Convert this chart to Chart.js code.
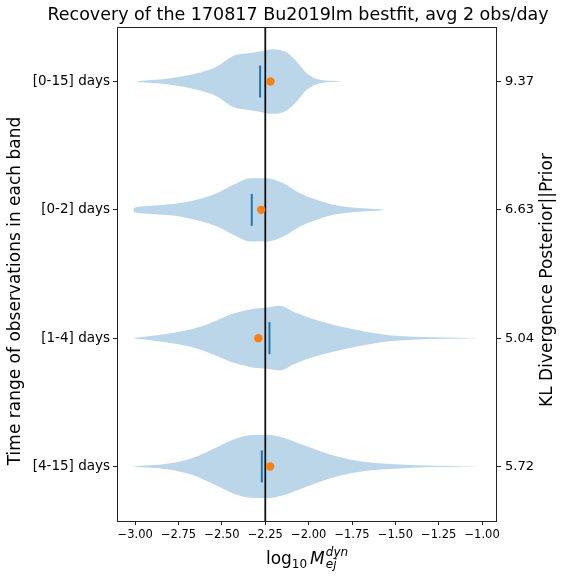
<!DOCTYPE html>
<html>
<head>
<meta charset="utf-8">
<script src="https://cdn.jsdelivr.net/npm/chart.js@4"></script>
<style>
  body { margin: 0; background: #fff; }
  #wrap { width: 567px; height: 577px; }
</style>
</head>
<body>
<div id="wrap"><canvas id="chart" width="567" height="577"></canvas></div>
<script>
// data
const categories = ["[0-15] days", "[0-2] days", "[1-4] days", "[4-15] days"];
const klDivergence = ["9.37", "6.63", "5.04", "5.72"];
const truthValue = -2.25;
const medians = [-2.28, -2.328, -2.226, -2.27];
const injected = [-2.22, -2.274, -2.29, -2.222];
const xTicks = [-3.0, -2.75, -2.5, -2.25, -2.0, -1.75, -1.5, -1.25, -1.0];

// violin outlines: x positions and half widths (category units)
const violinX = [
  [-2.99, -2.817, -2.625, -2.529, -2.434, -2.376, -2.299, -2.203, -2.126, -2.069, -2.011, -1.935, -1.82],
  [-3.01, -2.99, -2.913, -2.722, -2.529, -2.434, -2.338, -2.241, -2.146, -2.05, -1.954, -1.858, -1.762, -1.57],
  [-3.009, -2.913, -2.722, -2.625, -2.529, -2.434, -2.338, -2.241, -2.165, -2.088, -1.954, -1.762, -1.57, -1.378, -1.033],
  [-3.009, -2.817, -2.664, -2.529, -2.434, -2.338, -2.241, -2.146, -2.05, -1.858, -1.666, -1.474, -1.282, -1.033]
];
const violinHalfWidth = [
  [0.003, 0.021, 0.07, 0.117, 0.2, 0.216, 0.231, 0.252, 0.226, 0.156, 0.065, 0.013, 0.002],
  [0.014, 0.022, 0.031, 0.057, 0.13, 0.195, 0.247, 0.247, 0.208, 0.13, 0.078, 0.039, 0.021, 0.003],
  [0.002, 0.016, 0.055, 0.088, 0.14, 0.192, 0.224, 0.239, 0.252, 0.205, 0.14, 0.076, 0.029, 0.01, 0.001],
  [0.002, 0.021, 0.068, 0.15, 0.21, 0.244, 0.247, 0.224, 0.177, 0.086, 0.034, 0.016, 0.005, 0.001]
];

const yMin = -0.425, yMax = 3.425;
const FONT = "'DejaVu Sans', sans-serif";

const datasets = [];
// orange dots
datasets.push({
  data: injected.map((v, i) => ({ x: v, y: i })),
  showLine: false, pointRadius: 4.2, pointBackgroundColor: "#ff7f0e",
  pointBorderWidth: 0, pointHoverRadius: 4.2
});
// median markers
datasets.push({
  data: medians.map((v, i) => ({ x: v, y: i })),
  showLine: false, pointStyle: "line", rotation: 90, pointRadius: 16,
  pointBorderColor: "#1f77b4", pointBorderWidth: 2, pointHoverRadius: 16
});
// truth line
datasets.push({
  data: [{ x: truthValue, y: yMin }, { x: truthValue, y: yMax }],
  borderColor: "#111", borderWidth: 1.8, pointRadius: 0
});
// violins
violinX.forEach((xs, i) => {
  const w = violinHalfWidth[i];
  datasets.push({
    data: xs.map((x, k) => ({ x: x, y: i - w[k] })),
    borderWidth: 0, pointRadius: 0, cubicInterpolationMode: "monotone", fill: false
  });
  datasets.push({
    data: xs.map((x, k) => ({ x: x, y: i + w[k] })),
    borderWidth: 0, pointRadius: 0, cubicInterpolationMode: "monotone",
    fill: "-1", backgroundColor: "rgba(31,119,180,0.3)"
  });
});

const labelsPlugin = {
  id: "labels",
  afterDraw(chart) {
    const ctx = chart.ctx;
    const a = chart.chartArea;
    ctx.save();
    // frame
    ctx.strokeStyle = "#222";
    ctx.lineWidth = 1;
    ctx.strokeRect(a.left + 0.5, a.top + 0.5, a.right - a.left - 1, a.bottom - a.top);
    ctx.fillStyle = "#000";
    // title
    ctx.font = "17.5px " + FONT;
    ctx.textAlign = "center";
    ctx.textBaseline = "alphabetic";
    ctx.fillText("Recovery of the 170817 Bu2019lm bestfit, avg 2 obs/day", 298, 20);
    // left label
    ctx.font = "17px " + FONT;
    ctx.textBaseline = "middle";
    ctx.save();
    ctx.translate(16, 291);
    ctx.rotate(-Math.PI / 2);
    ctx.fillText("Time range of observations in each band", 0, 0);
    ctx.restore();
    // right label
    ctx.save();
    ctx.translate(548, 280);
    ctx.rotate(-Math.PI / 2);
    ctx.fillText("KL Divergence Posterior||Prior", 0, 0);
    ctx.restore();
    // x label: log10 M_ej^dyn
    ctx.textAlign = "left";
    ctx.textBaseline = "alphabetic";
    const big = "17px " + FONT, small = "12px " + FONT;
    const bigI = "oblique 17px " + FONT, smallI = "oblique 12px " + FONT;
    ctx.font = big; const wLog = ctx.measureText("log").width;
    ctx.font = small; const w10 = ctx.measureText("10").width;
    ctx.font = bigI; const wM = ctx.measureText("M").width;
    ctx.font = smallI; const wSup = Math.max(ctx.measureText("dyn").width, ctx.measureText("ej").width);
    const total = wLog + w10 + 3 + wM + 1 + wSup;
    let x = (a.left + a.right) / 2 - total / 2;
    const base = 564;
    ctx.font = big; ctx.fillText("log", x, base); x += wLog;
    ctx.font = small; ctx.fillText("10", x, base + 4); x += w10 + 3;
    ctx.font = bigI; ctx.fillText("M", x, base); x += wM + 1;
    ctx.font = smallI;
    ctx.fillText("dyn", x, base - 8);
    ctx.fillText("ej", x, base + 4);
    ctx.restore();
  }
};

new Chart(document.getElementById("chart"), {
  type: "line",
  data: { datasets: datasets },
  options: {
    responsive: false,
    animation: false,
    devicePixelRatio: 1,
    layout: { padding: { top: 27, left: 0, right: 0, bottom: 0 } },
    plugins: { legend: { display: false }, tooltip: { enabled: false } },
    scales: {
      x: {
        type: "linear", min: -3.105, max: -0.914,
        afterFit(s) { s.height = 56; },
        afterBuildTicks(s) { s.ticks = xTicks.map(v => ({ value: v })); },
        border: { display: false },
        grid: { drawOnChartArea: false, drawTicks: true, tickLength: 4, color: "#222" },
        ticks: {
          color: "#000", padding: 3, font: { family: FONT, size: 11.5 }, maxRotation: 0,
          callback: v => v.toFixed(2).replace("-", "\u2212")
        }
      },
      y: {
        type: "linear", position: "left", reverse: true, min: yMin, max: yMax,
        afterFit(s) { s.width = 117; },
        afterBuildTicks(s) { s.ticks = categories.map((c, i) => ({ value: i })); },
        border: { display: false },
        grid: { drawOnChartArea: false, drawTicks: true, tickLength: 4, color: "#222" },
        ticks: {
          color: "#000", padding: 3, font: { family: FONT, size: 13.5 },
          callback: v => categories[v]
        }
      },
      y2: {
        type: "linear", position: "right", reverse: true, min: yMin, max: yMax,
        afterFit(s) { s.width = 70; },
        afterBuildTicks(s) { s.ticks = klDivergence.map((c, i) => ({ value: i })); },
        border: { display: false },
        grid: { drawOnChartArea: false, drawTicks: true, tickLength: 4, color: "#222" },
        ticks: {
          color: "#000", padding: 4, font: { family: FONT, size: 13 },
          callback: v => klDivergence[v]
        }
      }
    }
  },
  plugins: [labelsPlugin]
});
</script>
</body>
</html>
